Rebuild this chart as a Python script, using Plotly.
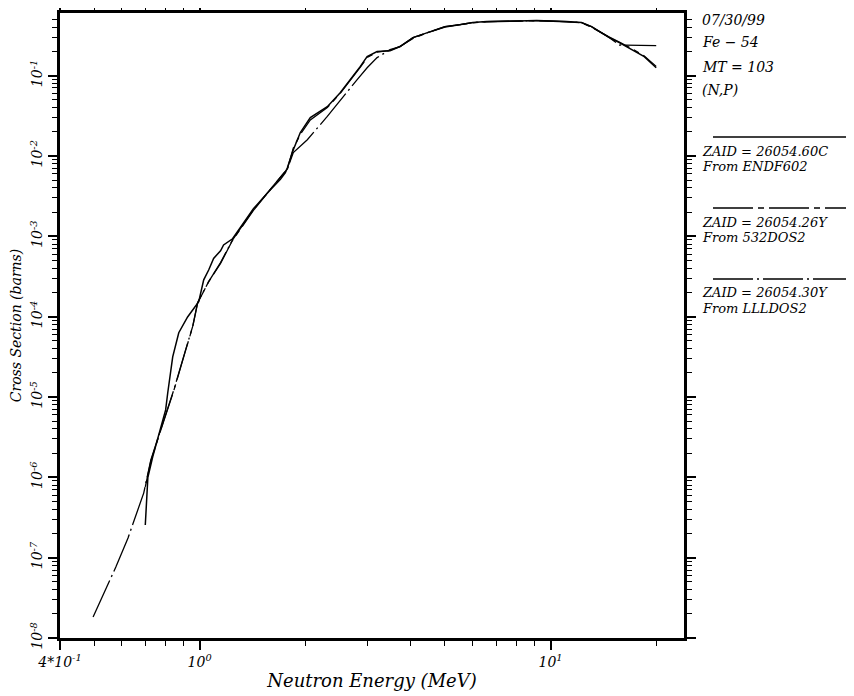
import math
import plotly.graph_objects as go

# ENDF602 (solid)
E_endf = [0.700, 0.705, 0.712, 0.735, 0.775, 0.800, 0.811, 0.838, 0.872, 0.924, 0.994,
          1.027, 1.061, 1.096, 1.147, 1.170, 1.241, 1.423, 1.591, 1.699, 1.755, 1.778,
          1.849, 1.936, 2.067, 2.311, 2.515, 2.738, 2.867, 3.001, 3.204, 3.488, 3.724,
          4.055, 4.443, 5.0, 5.514, 6.003, 6.579, 8.006, 9.125, 11.10, 12.25, 13.08,
          13.78, 14.71, 15.70, 17.10, 18.49, 20.0]
s_endf = [2.55e-7, 5.2e-7, 1.0e-6, 1.8e-6, 4.2e-6, 6.9e-6, 1.12e-5, 3.15e-5, 6.3e-5, 9.9e-5, 1.53e-4,
          2.87e-4, 3.8e-4, 5.3e-4, 6.6e-4, 7.8e-4, 9.3e-4, 2.2e-3, 3.8e-3, 5.1e-3, 6.2e-3, 7.1e-3,
          1.19e-2, 1.95e-2, 3.0e-2, 4.1e-2, 6.1e-2, 9.7e-2, 0.129, 0.172, 0.199, 0.204, 0.229,
          0.296, 0.342, 0.406, 0.43, 0.456, 0.469, 0.483, 0.483, 0.469, 0.456, 0.406,
          0.352, 0.296, 0.257, 0.21, 0.172, 0.125]

# 532DOS2 (long dash)
E_532 = [0.70, 0.726, 0.790, 0.844, 0.912, 0.955, 0.987, 1.06, 1.147, 1.170, 1.241, 1.423,
         1.591, 1.778, 1.849, 1.936, 2.067, 2.311, 2.515, 2.738, 2.867, 3.001, 3.204, 3.488,
         3.724, 4.055, 4.443, 5.0, 5.514, 6.003, 6.579, 8.006, 9.125, 11.10, 12.25, 13.08,
         13.78, 14.71, 15.70, 17.10, 18.49, 20.0]
s_532 = [7.6e-7, 1.6e-6, 5.0e-6, 1.2e-5, 3.8e-5, 7.4e-5, 1.48e-4, 2.7e-4, 4.6e-4, 5.5e-4, 8.9e-4, 2.1e-3,
         3.75e-3, 6.9e-3, 1.25e-2, 1.85e-2, 2.8e-2, 4.0e-2, 6.0e-2, 9.5e-2, 0.126, 0.168, 0.195, 0.205,
         0.23, 0.29, 0.34, 0.40, 0.43, 0.452, 0.466, 0.48, 0.48, 0.466, 0.452, 0.40,
         0.35, 0.30, 0.26, 0.215, 0.175, 0.13]

# LLLDOS2 (dash-dot)
E_lll = [0.497, 0.577, 0.625, 0.693, 0.726, 0.790, 0.844, 0.912, 0.955, 0.987, 1.06, 1.147,
         1.170, 1.241, 1.423, 1.591, 1.778, 1.849, 2.027, 2.311, 2.565, 2.811, 3.001, 3.204,
         3.488, 3.724, 4.055, 4.443, 5.0, 5.514, 6.003, 6.579, 8.006, 9.125, 11.10, 12.25,
         13.08, 13.78, 14.71, 15.70, 20.0]
s_lll = [1.83e-8, 7.65e-8, 1.76e-7, 6.4e-7, 1.65e-6, 5.2e-6, 1.22e-5, 3.86e-5, 7.5e-5, 1.5e-4, 2.7e-4, 4.7e-4,
         5.6e-4, 9.0e-4, 2.14e-3, 3.8e-3, 6.9e-3, 1.1e-2, 1.59e-2, 3.1e-2, 5.5e-2, 8.9e-2, 0.125, 0.167,
         0.21, 0.229, 0.296, 0.342, 0.406, 0.43, 0.456, 0.469, 0.483, 0.483, 0.469, 0.456,
         0.406, 0.352, 0.296, 0.24, 0.235]

x_tickvals = [0.4, 1, 10]
x_ticktext = ["4*10<sup>-1</sup>", "10<sup>0</sup>", "10<sup>1</sup>"]
y_tickvals = [1e-8, 1e-7, 1e-6, 1e-5, 1e-4, 1e-3, 1e-2, 1e-1]
y_ticktext = ["10<sup>-8</sup>", "10<sup>-7</sup>", "10<sup>-6</sup>", "10<sup>-5</sup>",
              "10<sup>-4</sup>", "10<sup>-3</sup>", "10<sup>-2</sup>", "10<sup>-1</sup>"]

header_lines = ["07/30/99", "Fe \u2212 54", "MT = 103", "(N,P)"]
legend_zaid = ["ZAID = 26054.60C", "ZAID = 26054.26Y", "ZAID = 26054.30Y"]
legend_from = ["From ENDF602", "From 532DOS2", "From LLLDOS2"]

FONT = "DejaVu Serif"
DASH_532 = "40px,5px,6px,5px"
DASH_LLL = "40px,4px,2px,4px"
dashes = ["solid", DASH_532, DASH_LLL]

# minor tick positions (2..9 within each decade)
x_minor = [m * 10.0 ** d for d in (-1, 0, 1) for m in range(2, 10) if 0.4 <= m * 10.0 ** d <= 24]
y_minor = [m * 10.0 ** d for d in range(-8, 0) for m in range(2, 10) if m * 10.0 ** d <= 0.6]

fig = go.Figure()
fig.add_trace(go.Scatter(x=E_lll, y=s_lll, mode="lines",
                         line=dict(color="black", width=1.3, dash=DASH_LLL), showlegend=False))
fig.add_trace(go.Scatter(x=E_532, y=s_532, mode="lines",
                         line=dict(color="black", width=1.3, dash=DASH_532), showlegend=False))
fig.add_trace(go.Scatter(x=E_endf, y=s_endf, mode="lines",
                         line=dict(color="black", width=1.5), showlegend=False))

axis_common = dict(type="log", showgrid=False, zeroline=False, showline=True,
                   linecolor="black", linewidth=3, mirror="allticks", automargin=False,
                   ticks="outside", ticklen=9, tickwidth=1.5, tickcolor="black",
                   tickfont=dict(family=FONT, size=14, color="black", style="italic"))

fig.update_xaxes(range=[math.log10(0.4), math.log10(24)], tickmode="array",
                 tickvals=x_tickvals, ticktext=x_ticktext,
                 minor=dict(ticks="outside", ticklen=5, tickwidth=1, tickcolor="black",
                            tickmode="array", tickvals=x_minor, showgrid=False),
                 title=dict(text="<i>Neutron Energy (MeV)</i>", standoff=6,
                            font=dict(family=FONT, size=18, color="black")),
                 **axis_common)
fig.update_yaxes(range=[-8, math.log10(0.6)], tickmode="array",
                 tickvals=y_tickvals, ticktext=y_ticktext, tickangle=-90,
                 minor=dict(ticks="outside", ticklen=5, tickwidth=1, tickcolor="black",
                            tickmode="array", tickvals=y_minor, showgrid=False),
                 title=dict(text="<i>Cross Section (barns)</i>", standoff=4,
                            font=dict(family=FONT, size=14, color="black")),
                 **axis_common)

# paper coords: plot area spans x 60..684 px, y 13..638 px of the screenshot
def px_x(px):
    return (px - 60) / 624.0

def px_y(py):
    return (638 - py) / 625.0

annotations = []
header_py = [20, 42, 67, 90]
for txt, py in zip(header_lines, header_py):
    annotations.append(dict(text="<i>" + txt + "</i>", x=px_x(700), y=px_y(py), xref="paper", yref="paper",
                            xanchor="left", yanchor="middle", showarrow=False,
                            font=dict(family=FONT, size=14, color="black")))
shapes = []
line_py = [137, 208, 279]
for i in range(3):
    lp = line_py[i]
    shapes.append(dict(type="line", xref="paper", yref="paper", x0=px_x(713), x1=px_x(853),
                       y0=px_y(lp), y1=px_y(lp), line=dict(color="black", width=1.3, dash=dashes[i])))
    annotations.append(dict(text="<i>" + legend_zaid[i] + "</i>", x=px_x(700), y=px_y(lp + 14),
                            xref="paper", yref="paper", xanchor="left", yanchor="middle",
                            showarrow=False, font=dict(family=FONT, size=13, color="black")))
    annotations.append(dict(text="<i>" + legend_from[i] + "</i>", x=px_x(700), y=px_y(lp + 29),
                            xref="paper", yref="paper", xanchor="left", yanchor="middle",
                            showarrow=False, font=dict(family=FONT, size=13, color="black")))

# the page body adds an 8px offset, so the figure is sized to fit the window
fig.update_layout(width=846, height=688, paper_bgcolor="white", plot_bgcolor="white",
                  margin=dict(l=52, r=170, t=5, b=58, autoexpand=False),
                  annotations=annotations, shapes=shapes)

fig.write_html("out.html")
